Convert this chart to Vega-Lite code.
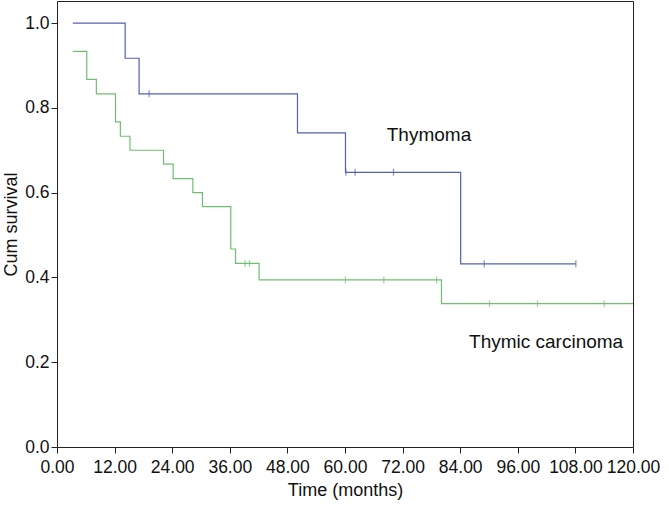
{
  "$schema": "https://vega.github.io/schema/vega-lite/v6.json",
  "width": 576,
  "height": 446,
  "autosize": "none",
  "padding": {"left": 57, "top": 1, "right": 36, "bottom": 59},
  "background": "white",
  "config": {
    "view": {"stroke": "#222222", "strokeWidth": 1},
    "font": "Liberation Sans",
    "axis": {
      "grid": false,
      "domain": false,
      "tickColor": "#222222",
      "labelColor": "#111111",
      "titleColor": "#111111",
      "labelFont": "Liberation Sans",
      "titleFont": "Liberation Sans",
      "labelFontSize": 17.5,
      "titleFontSize": 18,
      "titleFontWeight": "normal"
    }
  },
  "datasets": {
    "curves": [
      {"group": "Thymoma", "time": 3.3, "surv": 1.0},
      {"group": "Thymoma", "time": 14.2, "surv": 0.917},
      {"group": "Thymoma", "time": 17.1, "surv": 0.833},
      {"group": "Thymoma", "time": 50.1, "surv": 0.741},
      {"group": "Thymoma", "time": 60.1, "surv": 0.648},
      {"group": "Thymoma", "time": 84.1, "surv": 0.432},
      {"group": "Thymoma", "time": 108.1, "surv": 0.432},
      {"group": "Thymic carcinoma", "time": 3.3, "surv": 0.933},
      {"group": "Thymic carcinoma", "time": 6.2, "surv": 0.867},
      {"group": "Thymic carcinoma", "time": 8.2, "surv": 0.833},
      {"group": "Thymic carcinoma", "time": 12.2, "surv": 0.767},
      {"group": "Thymic carcinoma", "time": 13.2, "surv": 0.733},
      {"group": "Thymic carcinoma", "time": 15.2, "surv": 0.7},
      {"group": "Thymic carcinoma", "time": 22.2, "surv": 0.667},
      {"group": "Thymic carcinoma", "time": 24.2, "surv": 0.633},
      {"group": "Thymic carcinoma", "time": 28.3, "surv": 0.6},
      {"group": "Thymic carcinoma", "time": 30.3, "surv": 0.567},
      {"group": "Thymic carcinoma", "time": 36.2, "surv": 0.467},
      {"group": "Thymic carcinoma", "time": 37.2, "surv": 0.433},
      {"group": "Thymic carcinoma", "time": 42.1, "surv": 0.394},
      {"group": "Thymic carcinoma", "time": 80.1, "surv": 0.338},
      {"group": "Thymic carcinoma", "time": 120, "surv": 0.338}
    ],
    "censors": [
      {"group": "Thymoma", "time": 19.2, "surv": 0.833},
      {"group": "Thymoma", "time": 60.2, "surv": 0.648},
      {"group": "Thymoma", "time": 62.1, "surv": 0.648},
      {"group": "Thymoma", "time": 70.1, "surv": 0.648},
      {"group": "Thymoma", "time": 89.0, "surv": 0.432},
      {"group": "Thymoma", "time": 108.1, "surv": 0.432},
      {"group": "Thymic carcinoma", "time": 39.2, "surv": 0.433},
      {"group": "Thymic carcinoma", "time": 40.1, "surv": 0.433},
      {"group": "Thymic carcinoma", "time": 60.1, "surv": 0.394},
      {"group": "Thymic carcinoma", "time": 68.1, "surv": 0.394},
      {"group": "Thymic carcinoma", "time": 79.1, "surv": 0.394},
      {"group": "Thymic carcinoma", "time": 90.1, "surv": 0.338},
      {"group": "Thymic carcinoma", "time": 100.1, "surv": 0.338},
      {"group": "Thymic carcinoma", "time": 114.0, "surv": 0.338}
    ],
    "labels": [
      {"label": "Thymoma", "time": 77.5, "surv": 0.736},
      {"label": "Thymic carcinoma", "time": 101.9, "surv": 0.248}
    ]
  },
  "encoding": {
    "x": {
      "field": "time",
      "type": "quantitative",
      "scale": {"domain": [0, 120], "nice": false, "zero": false},
      "axis": {
        "title": "Time (months)",
        "values": [0, 12, 24, 36, 48, 60, 72, 84, 96, 108, 120],
        "format": ".2f",
        "tickSize": 6,
        "labelPadding": 5,
        "titlePadding": 6,
        "labelFlush": false,
        "labelOverlap": false
      }
    },
    "y": {
      "field": "surv",
      "type": "quantitative",
      "scale": {"domain": [0, 1.052], "nice": false, "zero": false},
      "axis": {
        "title": "Cum survival",
        "values": [0, 0.2, 0.4, 0.6, 0.8, 1.0],
        "format": ".1f",
        "tickSize": 6,
        "labelPadding": 2,
        "titlePadding": 4,
        "labelFlush": false,
        "labelOverlap": false
      }
    }
  },
  "layer": [
    {
      "data": {"name": "curves"},
      "mark": {"type": "line", "interpolate": "step-after", "strokeWidth": 1.2},
      "encoding": {
        "color": {
          "field": "group",
          "type": "nominal",
          "scale": {"domain": ["Thymoma", "Thymic carcinoma"], "range": ["#5560b2", "#70bf70"]},
          "legend": null
        }
      }
    },
    {
      "data": {"name": "censors"},
      "mark": {"type": "tick", "orient": "vertical", "size": 7, "thickness": 1.2},
      "encoding": {
        "color": {
          "field": "group",
          "type": "nominal",
          "scale": {"domain": ["Thymoma", "Thymic carcinoma"], "range": ["#5560b2", "#70bf70"]},
          "legend": null
        }
      }
    },
    {
      "data": {"name": "labels"},
      "mark": {"type": "text", "font": "Liberation Sans", "fontSize": 19, "color": "#111111", "align": "center", "baseline": "middle"},
      "encoding": {
        "text": {"field": "label", "type": "nominal"}
      }
    }
  ]
}
